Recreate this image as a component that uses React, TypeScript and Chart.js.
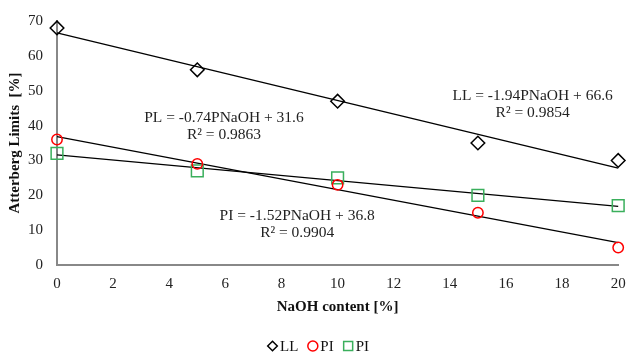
import React, { useEffect, useRef } from "react";
import { Chart, registerables } from "chart.js";
Chart.register(...registerables);

const naoh = [0, 5, 10, 15, 20];
const llValues = [68, 56, 47, 35, 30];
const piValues = [36, 29, 23, 15, 5];
const plValues = [32, 27, 25, 20, 17];
const trendX = [0, 20];
const llTrend = [66.6, 27.8];
const piTrend = [36.8, 6.4];
const plTrend = [31.6, 16.8];
const legendLabels = ["LL", "PI", "PI"];
const annotations = [
  { x: 5.95, y: 42.3, lines: ["PL = -0.74PNaOH + 31.6", "R² = 0.9863"] },
  { x: 16.95, y: 48.6, lines: ["LL = -1.94PNaOH + 66.6", "R² = 0.9854"] },
  { x: 8.56, y: 14.2, lines: ["PI = -1.52PNaOH + 36.8", "R² = 0.9904"] },
];

const FONT = '"Liberation Serif", "Times New Roman", serif';
const GREEN = "#3AAF5C";

const annotationPlugin = {
  id: "eqAnnotations",
  afterDatasetsDraw(chart: any) {
    const { ctx, scales } = chart;
    ctx.save();
    ctx.font = `15.5px ${FONT}`;
    ctx.fillStyle = "#222";
    ctx.textAlign = "center";
    ctx.textBaseline = "middle";
    annotations.forEach((a) => {
      const px = scales.x.getPixelForValue(a.x);
      const py = scales.y.getPixelForValue(a.y);
      a.lines.forEach((l, i) => ctx.fillText(l, px, py + i * 17));
    });
    ctx.restore();
  },
};

const legendPlugin = {
  id: "customLegend",
  afterDraw(chart: any) {
    const { ctx } = chart;
    const ds = chart.data.datasets.slice(0, 3);
    ctx.save();
    ctx.font = `15px ${FONT}`;
    ctx.textBaseline = "middle";
    ctx.textAlign = "left";
    const y = 346;
    const markerW = 11;
    const gapMarkerText = 2;
    const gapItems = 9;
    const widths = ds.map((d: any) => markerW + gapMarkerText + ctx.measureText(d.label).width);
    const total = widths.reduce((a: number, b: number) => a + b, 0) + gapItems * (ds.length - 1);
    let x = chart.width / 2 + 4 - total / 2;
    ds.forEach((d: any, i: number) => {
      const cx = x + markerW / 2;
      ctx.strokeStyle = d.borderColor;
      ctx.lineWidth = 1.5;
      ctx.beginPath();
      if (d.pointStyle === "rectRot") {
        const r = 4.8;
        ctx.moveTo(cx, y - r);
        ctx.lineTo(cx + r, y);
        ctx.lineTo(cx, y + r);
        ctx.lineTo(cx - r, y);
        ctx.closePath();
      } else if (d.pointStyle === "circle") {
        ctx.arc(cx, y, 5, 0, Math.PI * 2);
      } else {
        ctx.rect(cx - 4.5, y - 4.5, 9, 9);
      }
      ctx.stroke();
      ctx.fillStyle = "#111";
      ctx.fillText(d.label, x + markerW + gapMarkerText, y + 1);
      x += widths[i] + gapItems;
    });
    ctx.restore();
  },
};

export default function App() {
  const ref = useRef<HTMLCanvasElement>(null);
  useEffect(() => {
    document.body.style.margin = "0";
    const toPts = (xs: number[], ys: number[]) => xs.map((x, i) => ({ x, y: ys[i] }));
    const markerBase = { showLine: false, borderWidth: 1.5, backgroundColor: "rgba(255,255,255,0)", clip: false };
    const trendBase = {
      showLine: true,
      pointRadius: 0,
      borderColor: "#000",
      borderWidth: 1.3,
      fill: false,
      clip: false,
    };
    const chart = new Chart(ref.current!, {
      type: "scatter",
      data: {
        datasets: [
          { ...markerBase, label: legendLabels[0], data: toPts(naoh, llValues), pointStyle: "rectRot", pointRadius: 6.8, borderColor: "#000" },
          { ...markerBase, label: legendLabels[1], data: toPts(naoh, piValues), pointStyle: "circle", pointRadius: 5.2, borderColor: "#FF0000" },
          { ...markerBase, label: legendLabels[2], data: toPts(naoh, plValues), pointStyle: "rect", pointRadius: 8.3, borderColor: GREEN },
          { ...trendBase, label: "t1", data: toPts(trendX, llTrend) },
          { ...trendBase, label: "t2", data: toPts(trendX, piTrend) },
          { ...trendBase, label: "t3", data: toPts(trendX, plTrend) },
        ] as any,
      },
      options: {
        animation: false,
        responsive: false,
        layout: { padding: { top: 21, right: 0, left: 6, bottom: 0 } },
        plugins: {
          tooltip: { enabled: false },
          legend: { display: false },
        },
        scales: {
          x: {
            type: "linear",
            min: 0,
            max: 20,
            afterFit: (scale: any) => {
              scale.paddingRight = 6;
            },
            ticks: { stepSize: 2, color: "#222", font: { family: FONT, size: 15 }, padding: 4 },
            grid: { display: false, drawTicks: true, tickLength: 6, tickColor: "#888", lineWidth: 2 } as any,
            border: { color: "#888", width: 2 },
            title: {
              display: true,
              text: "NaOH content [%]",
              color: "#111",
              font: { family: FONT, size: 15, weight: "bold" },
              padding: { top: 1, bottom: 44 },
            },
          },
          y: {
            min: 0,
            max: 70,
            afterFit: (scale: any) => {
              scale.width = 51;
            },
            ticks: { stepSize: 10, color: "#222", font: { family: FONT, size: 15 }, padding: 8 },
            grid: { display: false, drawTicks: true, tickLength: 6, tickColor: "#888", lineWidth: 2 } as any,
            border: { color: "#888", width: 2 },
            title: {
              display: true,
              text: "Atterberg Limits  [%]",
              color: "#111",
              font: { family: FONT, size: 15, weight: "bold" },
              padding: { top: 0, bottom: 4 },
            },
          },
        },
      },
      plugins: [annotationPlugin, legendPlugin],
    });
    return () => chart.destroy();
  }, []);
  return <canvas ref={ref} width={628} height={360} style={{ display: "block" }} />;
}
